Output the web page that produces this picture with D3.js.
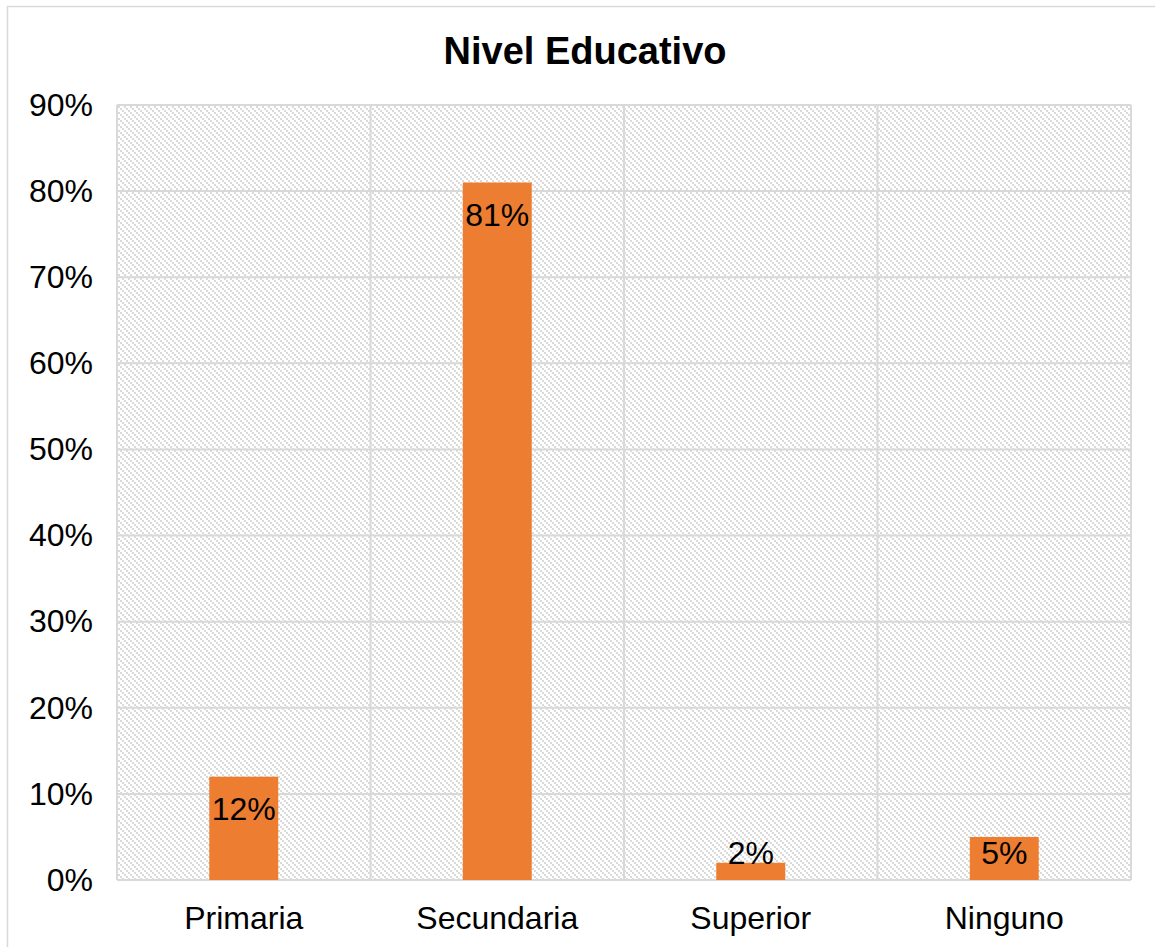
<!DOCTYPE html>
<html>
<head>
<meta charset="utf-8">
<script src="https://cdn.jsdelivr.net/npm/d3@7/dist/d3.min.js"></script>
<style>
  html, body { margin: 0; padding: 0; background: #fff; }
  svg { display: block; font-family: "Liberation Sans", Arial, sans-serif; }
</style>
</head>
<body>
<svg id="chart" width="1155" height="947"></svg>
<script>
// Education level distribution
const categories = ["Primaria", "Secundaria", "Superior", "Ninguno"];
const values = [12, 81, 2, 5];
const yTicks = [0, 10, 20, 30, 40, 50, 60, 70, 80, 90];
const title = "Nivel Educativo";

const svg = d3.select("#chart");
const W = 1155, H = 947;
const plot = { left: 117, top: 105, right: 1131, bottom: 880 };

// Outer chart frame
svg.append("rect")
  .attr("x", 7.5).attr("y", 6.5)
  .attr("width", W).attr("height", H)
  .attr("fill", "#fff").attr("stroke", "#d9d9d9").attr("stroke-width", 1.5);

// Diagonal dotted fill for the plot area
const defs = svg.append("defs");
const pat = defs.append("pattern")
  .attr("id", "hatch").attr("patternUnits", "userSpaceOnUse")
  .attr("width", 6).attr("height", 6);
pat.append("rect").attr("width", 6).attr("height", 6).attr("fill", "#fff");
[[0, 0], [2, 2], [4, 4]].forEach(([px, py]) => {
  pat.append("rect").attr("x", px).attr("y", py)
    .attr("width", 2).attr("height", 2).attr("fill", "#dadada");
});

const x = d3.scaleBand()
  .domain(categories)
  .range([plot.left, plot.right])
  .paddingInner(0).paddingOuter(0);

const y = d3.scaleLinear()
  .domain([0, 90])
  .range([plot.bottom, plot.top]);

svg.append("rect")
  .attr("x", plot.left).attr("y", plot.top)
  .attr("width", plot.right - plot.left).attr("height", plot.bottom - plot.top)
  .attr("fill", "url(#hatch)");

// Horizontal gridlines
svg.append("g")
  .selectAll("line").data(yTicks).join("line")
  .attr("x1", plot.left).attr("x2", plot.right)
  .attr("y1", d => y(d)).attr("y2", d => y(d))
  .attr("stroke", "#d9d9d9").attr("stroke-width", 2);

// Vertical category separators
const seps = categories.map(c => x(c)).concat([plot.right]);
svg.append("g")
  .selectAll("line").data(seps).join("line")
  .attr("x1", d => d).attr("x2", d => d)
  .attr("y1", plot.top).attr("y2", plot.bottom)
  .attr("stroke", "#d9d9d9").attr("stroke-width", 2);

// Bars
const barW = x.bandwidth() * 0.272;
svg.append("g")
  .selectAll("rect").data(values).join("rect")
  .attr("x", (d, i) => x(categories[i]) + x.bandwidth() / 2 - barW / 2)
  .attr("y", d => y(d))
  .attr("width", barW)
  .attr("height", d => y(0) - y(d))
  .attr("fill", "#ed7d31");

// Value labels at inside end of each bar (kept above the baseline for short bars)
svg.append("g")
  .selectAll("text").data(values).join("text")
  .attr("x", (d, i) => x(categories[i]) + x.bandwidth() / 2)
  .attr("y", d => Math.min(y(d) + 43, y(0) - 16))
  .attr("text-anchor", "middle")
  .attr("font-size", 32)
  .attr("fill", "#000")
  .text(d => d + "%");

// Y axis labels
const yAxis = d3.axisLeft(y).tickValues(yTicks).tickFormat(d => d + "%").tickSize(0).tickPadding(24);
const gy = svg.append("g").attr("transform", `translate(${plot.left},0)`).call(yAxis);
gy.select(".domain").remove();
gy.selectAll("text").attr("font-size", 32).attr("fill", "#000")
  .attr("font-family", "'Liberation Sans', Arial, sans-serif");

// X axis labels
const xAxis = d3.axisBottom(x).tickSize(0).tickPadding(26);
const gx = svg.append("g").attr("transform", `translate(0,${plot.bottom})`).call(xAxis);
gx.select(".domain").remove();
gx.selectAll("text").attr("font-size", 32).attr("fill", "#000")
  .attr("font-family", "'Liberation Sans', Arial, sans-serif");

// Title
svg.append("text")
  .attr("x", 585).attr("y", 64)
  .attr("text-anchor", "middle")
  .attr("font-size", 38).attr("font-weight", "bold").attr("fill", "#000")
  .text(title);
</script>
</body>
</html>
